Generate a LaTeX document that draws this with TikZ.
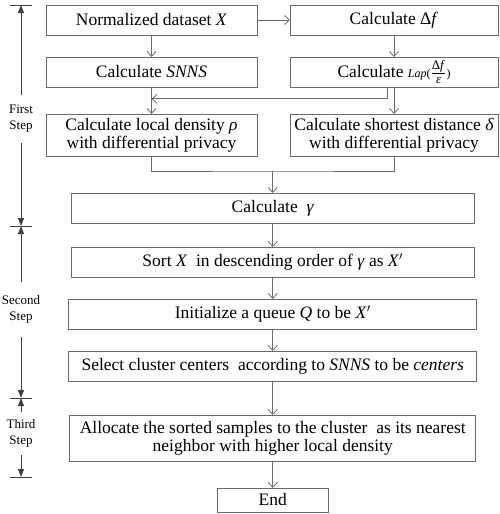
\documentclass[tikz,border=0pt]{standalone}
\usepackage{amsmath}
\usepackage{fontspec}
\setmainfont{Liberation Serif}
\usepackage{tikz}
\usetikzlibrary{arrows.meta,positioning,calc}
\definecolor{linegray}{gray}{0.42}
\definecolor{markgray}{gray}{0.25}

\begin{document}
\begin{tikzpicture}[
    x=1pt, y=1pt,
    proc/.style={rectangle, draw=linegray, line width=0.8pt, outer sep=0pt, minimum width=#1, minimum height=30pt, inner sep=1pt, font=\fontsize{17.5}{18}\selectfont, align=center},
    proc/.default=211pt,
    flow/.style={-{Straight Barb[length=5pt,width=9pt]}, draw=linegray, line width=0.8pt},
    dim/.style={-{Triangle[length=8pt,width=6pt]}, draw=markgray, line width=0.8pt},
    steplbl/.style={font=\fontsize{13}{16}\selectfont, align=center, inner sep=0pt, outer sep=0pt, minimum height=48pt},
    tick/.style={draw=markgray, line width=0.8pt}
]
    \useasboundingbox (0,0) rectangle (499,-514);

    % First step boxes
    \node[proc] (data) at (151.5,-20) {Normalized dataset \textit{X}};
    \node[proc=208pt] (delta) at (394,-20) {Calculate Δ\textit{f}};
    \node[proc, below=22pt of data] (snns) {Calculate \textit{SNNS}};
    \node[proc=208pt] (lap) at (snns -| delta) {Calculate {\fontsize{12}{12}\selectfont\textit{Lap}(}$\frac{\mbox{\fontsize{13}{12}\selectfont Δ\textit{f}}}{\mbox{\fontsize{13}{12}\selectfont\textit{ε}}}${\fontsize{12}{12}\selectfont)}};
    \node[proc, minimum height=42pt, below=27pt of snns] (rho) {Calculate local density \textit{ρ}\\with differential privacy};
    \node[proc=208pt, minimum height=42pt] (dist) at (rho -| delta) {Calculate shortest distance \textit{δ}\\with differential privacy};

    \coordinate (join) at ($(rho.south)!0.5!(dist.south)+(0,-15)$);

    % Second and third step boxes
    \node[proc=403pt, below=22pt of join] (gamma) {Calculate \ \textit{γ}};
    \node[proc=403pt, below=24pt of gamma] (sort) {Sort \textit{X} \ in descending order of \textit{γ} as \textit{X}$'$};
    \node[proc=408pt, below=22pt of sort] (queue) {Initialize a queue \textit{Q} to be \textit{X}$'$};
    \node[proc=408pt, below=22pt of queue] (centers) {Select cluster centers \ according to \textit{SNNS} to be \textit{centers}};
    \node[proc=406pt, minimum height=46pt, below=34pt of centers] (alloc) {Allocate the sorted samples to the cluster \ as its nearest\\neighbor with higher local density};
    \node[proc=111pt, minimum height=24pt, below=27pt of alloc] (end) {End};

    % Flow
    \draw[flow] (data) -- (delta);
    \draw[flow] (data) -- (snns);
    \draw[flow] (delta) -- (lap);
    \draw[flow] (snns) -- (rho);
    \draw[flow] (lap) -- (dist);
    \draw[flow] ([xshift=-7pt]lap.south) |- ($(snns.south)!0.44!(rho.north)$);
    \draw[linegray, line width=0.8pt] (rho.south) |- (join) -| (dist.south);
    \draw[flow] (join) -- (gamma);
    \draw[flow] (gamma) -- (sort);
    \draw[flow] (sort) -- (queue);
    \draw[flow] (queue) -- (centers);
    \draw[flow] (centers) -- (alloc);
    \draw[flow] (alloc) -- (end);

    % Step markers on the left
    \foreach \y/\n in {-5/s0, -226/s1, -398/s2, -477/s3} {
        \coordinate (\n) at (21,\y);
        \draw[tick] ([xshift=-11pt]\n) -- ([xshift=11pt]\n);
    }
    \node[steplbl] (first) at (21,-119) {First\\Step};
    \node[steplbl, minimum height=55pt] (second) at (21,-309.5) {Second\\Step};
    \node[steplbl, minimum height=43pt] (third) at (21,-433.5) {Third\\Step};
    \draw[dim] (first.north) -- (s0);
    \draw[dim] (first.south) -- (s1);
    \draw[dim] (second.north) -- (s1);
    \draw[dim] (second.south) -- (s2);
    \draw[dim] (third.north) -- (s2);
    \draw[dim] (third.south) -- (s3);
\end{tikzpicture}
\end{document}
